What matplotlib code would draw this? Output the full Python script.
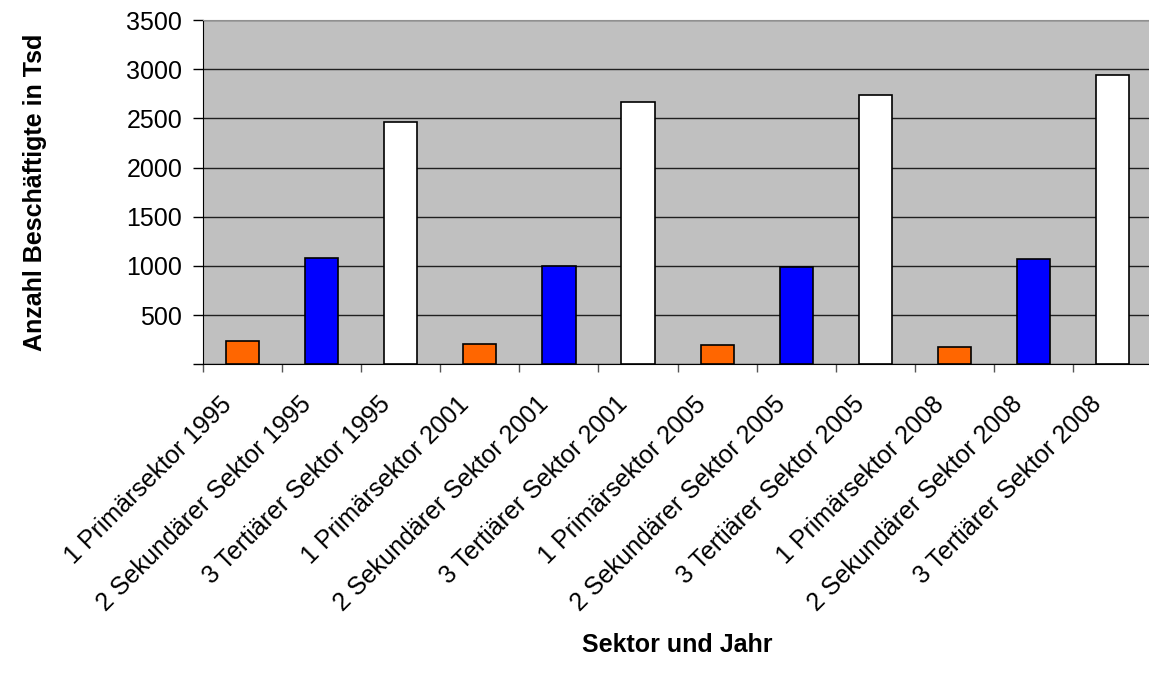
import numpy as np
import matplotlib.pyplot as plt
import matplotlib.transforms as mtransforms

plt.rcParams['font.family'] = ['Liberation Sans', 'DejaVu Sans']

# categories and values (Tsd Beschaeftigte)
labels = ['1 Primärsektor 1995', '2 Sekundärer Sektor 1995', '3 Tertiärer Sektor 1995',
          '1 Primärsektor 2001', '2 Sekundärer Sektor 2001', '3 Tertiärer Sektor 2001',
          '1 Primärsektor 2005', '2 Sekundärer Sektor 2005', '3 Tertiärer Sektor 2005',
          '1 Primärsektor 2008', '2 Sekundärer Sektor 2008', '3 Tertiärer Sektor 2008']
values = [240, 1084, 2460, 210, 1002, 2670, 193, 986, 2735, 176, 1070, 2944]
sector_colors = ['#FF6600', '#0000FF', '#FFFFFF']

fig = plt.figure(figsize=(11.49, 6.82), dpi=100)
ax = fig.add_axes([203 / 1149, 1 - 364.3 / 682, 1 - 203 / 1149, (364.3 - 20) / 682])
ax.set_facecolor('#C0C0C0')

x = np.arange(len(values))
colors = [sector_colors[i % 3] for i in range(len(values))]
ax.bar(x, values, width=0.42, color=colors, edgecolor='black', linewidth=1.2, zorder=3)

ax.set_xlim(-0.5, 11.46)
ax.set_ylim(0, 3500)

# grid
ax.set_yticks(np.arange(0, 3501, 500))
ax.set_yticklabels([''] + [str(v) for v in range(500, 3501, 500)])
ax.yaxis.grid(True, color='#202020', linewidth=1.0, zorder=1)
ax.tick_params(axis='y', direction='out', length=7, width=1, pad=8, labelsize=18)

# x ticks: marks at category boundaries, labels at centers
ax.set_xticks(np.arange(-0.5, 11.5, 1), minor=True)
ax.set_xticks(x)
ax.set_xticklabels(labels, rotation=45, ha='right', rotation_mode='default', fontsize=18)
ax.tick_params(axis='x', which='major', length=0, pad=20)
ax.tick_params(axis='x', which='minor', length=6, width=1, color='#555555')
offset = mtransforms.ScaledTranslation(-6 / 100, 0, fig.dpi_scale_trans)
for lab in ax.get_xticklabels():
    lab.set_transform(lab.get_transform() + offset)

for side in ['top', 'right']:
    ax.spines[side].set_color('#909090')
ax.spines['right'].set_visible(False)
ax.spines['left'].set_color('black')
ax.spines['bottom'].set_color('black')

fig.text(677 / 1149, 1 - 645 / 682, 'Sektor und Jahr', ha='center', va='center',
         fontsize=18, fontweight='bold')
fig.text(35 / 1149, 1 - 192 / 682, 'Anzahl Beschäftigte in Tsd', ha='center', va='center',
         rotation=90, fontsize=18, fontweight='bold')

fig.savefig('out.png', dpi=100)
